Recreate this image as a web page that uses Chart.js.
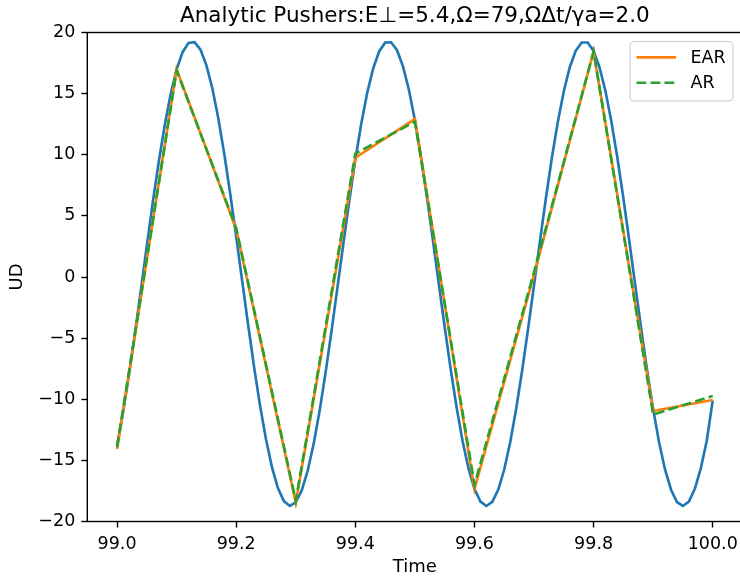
<!DOCTYPE html>
<html>
<head>
<meta charset="utf-8">
<script src="https://cdn.jsdelivr.net/npm/chart.js@4/dist/chart.umd.min.js"></script>
<style>
  html, body { margin: 0; padding: 0; background: #fff; overflow: hidden; }
  #wrap { width: 745px; height: 578px; }
</style>
</head>
<body>
<div id="wrap"><canvas id="c" width="745" height="578"></canvas></div>
<script>
const TITLE = 'Analytic Pushers:E\u22a5=5.4,\u03a9=79,\u03a9\u0394t/\u03b3a=2.0';

// analytic solution, sampled every 0.01
const exactT = [
  99.00, 99.01, 99.02, 99.03, 99.04, 99.05, 99.06, 99.07, 99.08, 99.09,
  99.10, 99.11, 99.12, 99.13, 99.14, 99.15, 99.16, 99.17, 99.18, 99.19,
  99.20, 99.21, 99.22, 99.23, 99.24, 99.25, 99.26, 99.27, 99.28, 99.29,
  99.30, 99.31, 99.32, 99.33, 99.34, 99.35, 99.36, 99.37, 99.38, 99.39,
  99.40, 99.41, 99.42, 99.43, 99.44, 99.45, 99.46, 99.47, 99.48, 99.49,
  99.50, 99.51, 99.52, 99.53, 99.54, 99.55, 99.56, 99.57, 99.58, 99.59,
  99.60, 99.61, 99.62, 99.63, 99.64, 99.65, 99.66, 99.67, 99.68, 99.69,
  99.70, 99.71, 99.72, 99.73, 99.74, 99.75, 99.76, 99.77, 99.78, 99.79,
  99.80, 99.81, 99.82, 99.83, 99.84, 99.85, 99.86, 99.87, 99.88, 99.89,
  99.90, 99.91, 99.92, 99.93, 99.94, 99.95, 99.96, 99.97, 99.98, 99.99,
  100.00
];
const exactUD = [
  -13.78, -11.09, -8.00, -4.61, -1.04, 2.57, 6.11, 9.43, 12.42, 14.96,
  16.98, 18.39, 19.15, 19.21, 18.60, 17.31, 15.42, 12.97, 10.05, 6.79,
  3.29, -0.32, -3.91, -7.35, -10.51, -13.28, -15.56, -17.26, -18.33, -18.73,
  -18.43, -17.46, -15.85, -13.65, -10.95, -7.84, -4.43, -0.85, 2.76, 6.29,
  9.59, 12.55, 15.08, 17.07, 18.45, 19.17, 19.20, 18.55, 17.23, 15.30,
  12.83, 9.89, 6.61, 3.10, -0.51, -4.09, -7.52, -10.66, -13.41, -15.66,
  -17.33, -18.37, -18.73, -18.40, -17.39, -15.75, -13.52, -10.80, -7.67, -4.25,
  -0.67, 2.94, 6.46, 9.75, 12.70, 15.20, 17.16, 18.50, 19.18, 19.18,
  18.49, 17.15, 15.19, 12.68, 9.73, 6.44, 2.92, -0.70, -4.27, -7.69,
  -10.81, -13.54, -15.76, -17.40, -18.41, -18.73, -18.37, -17.33, -15.65, -13.39,
  -10.10
];

// pusher steps
const stepT = [99.0, 99.1, 99.2, 99.3, 99.4, 99.5, 99.6, 99.7, 99.8, 99.9, 100.0];
const earUD = [-14.07, 17.0, 3.9, -18.46, 9.76, 12.92, -17.35, 0.2, 18.43, -10.96, -10.06];
const arUD  = [-13.9, 16.9, 4.0, -18.3, 10.1, 12.7, -17.0, 0.4, 18.45, -11.25, -9.73];

const xTicks = [99.0, 99.2, 99.4, 99.6, 99.8, 100.0];
const yTicks = [-20, -15, -10, -5, 0, 5, 10, 15, 20];

const pts = (xs, ys) => xs.map((x, i) => ({ x, y: ys[i] }));
const FONT = 'DejaVu Sans';

const framePlugin = {
  id: 'frame',
  afterDraw(chart) {
    const { ctx, chartArea: a } = chart;
    ctx.save();
    ctx.strokeStyle = '#000';
    ctx.lineWidth = 1.4;
    ctx.strokeRect(a.left, a.top, a.right - a.left, a.bottom - a.top);

    // title, centred over the plot
    ctx.fillStyle = '#000';
    ctx.font = `21.5px "${FONT}"`;
    ctx.textAlign = 'center';
    ctx.textBaseline = 'alphabetic';
    ctx.fillText(TITLE, (a.left + a.right) / 2, 22);

    // legend box, upper right
    const bx = 630, by = 41.5, bw = 103, bh = 59.5, r = 4;
    ctx.beginPath();
    ctx.roundRect(bx, by, bw, bh, r);
    ctx.fillStyle = 'rgba(255,255,255,0.8)';
    ctx.fill();
    ctx.strokeStyle = '#cccccc';
    ctx.lineWidth = 1;
    ctx.stroke();

    const items = [
      { label: 'EAR', color: '#ff7f0e', dash: [], y: 57.3 },
      { label: 'AR',  color: '#2ca02c', dash: [9.8, 4.2], y: 82.7 }
    ];
    ctx.font = `17.5px "${FONT}"`;
    ctx.textAlign = 'left';
    ctx.textBaseline = 'middle';
    items.forEach(it => {
      ctx.beginPath();
      ctx.setLineDash(it.dash);
      ctx.strokeStyle = it.color;
      ctx.lineWidth = 2.65;
      ctx.moveTo(636.5, it.y);
      ctx.lineTo(676, it.y);
      ctx.stroke();
      ctx.setLineDash([]);
      ctx.fillStyle = '#000';
      ctx.fillText(it.label, 690.5, it.y + 1);
    });
    ctx.restore();
  }
};

new Chart(document.getElementById('c'), {
  type: 'scatter',
  data: {
    datasets: [
      {
        label: 'exact',
        data: pts(exactT, exactUD),
        showLine: true,
        borderColor: '#1f77b4',
        borderWidth: 2.65,
        pointRadius: 0,
        tension: 0,
        order: 3
      },
      {
        label: 'EAR',
        data: pts(stepT, earUD),
        showLine: true,
        borderColor: '#ff7f0e',
        borderWidth: 2.65,
        pointRadius: 0,
        tension: 0,
        order: 2
      },
      {
        label: 'AR',
        data: pts(stepT, arUD),
        showLine: true,
        borderColor: '#2ca02c',
        borderWidth: 2.65,
        borderDash: [9.8, 4.2],
        pointRadius: 0,
        tension: 0,
        order: 1
      }
    ]
  },
  options: {
    responsive: false,
    animation: false,
    devicePixelRatio: 1,
    layout: { padding: { top: 32.5, right: 2.5, left: 0, bottom: 0 } },
    plugins: {
      legend: { display: false },
      title: { display: false },
      tooltip: { enabled: false }
    },
    scales: {
      x: {
        type: 'linear',
        min: 98.95, max: 100.05,
        afterFit: s => { s.height = 56.5; },
        afterBuildTicks: s => { s.ticks = xTicks.map(v => ({ value: v })); },
        grid: { drawOnChartArea: false, drawTicks: true, tickLength: 6, tickWidth: 1.4, tickColor: '#000' },
        border: { display: false },
        ticks: {
          color: '#000', padding: 6,
          font: { family: FONT, size: 17.5 },
          maxRotation: 0,
          callback: v => v.toFixed(1)
        },
        title: {
          display: true, text: 'Time', color: '#000',
          font: { family: FONT, size: 18 },
          padding: { top: 0, bottom: 0 }
        }
      },
      y: {
        type: 'linear',
        min: -20, max: 20,
        afterFit: s => { s.width = 87.3; },
        afterBuildTicks: s => { s.ticks = yTicks.map(v => ({ value: v })); },
        grid: { drawOnChartArea: false, drawTicks: true, tickLength: 6, tickWidth: 1.4, tickColor: '#000' },
        border: { display: false },
        ticks: {
          color: '#000', padding: 6,
          font: { family: FONT, size: 17.5 },
          callback: v => String(v).replace('-', '\u2212')
        },
        title: {
          display: true, text: 'UD', color: '#000',
          font: { family: FONT, size: 18 },
          padding: { top: 7, bottom: 0 }
        }
      }
    }
  },
  plugins: [framePlugin]
});
</script>
</body>
</html>
